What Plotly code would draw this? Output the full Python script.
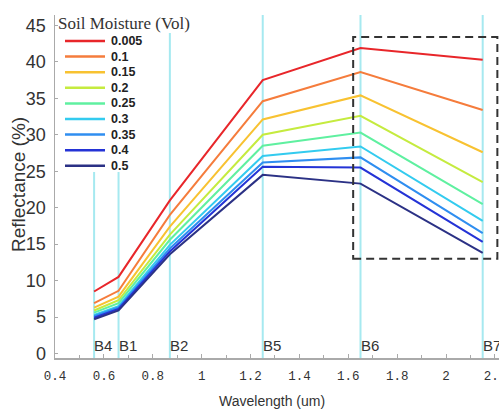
import plotly.graph_objects as go

# ---- data ----
wavelength = [0.56, 0.66, 0.87, 1.25, 1.65, 2.15]
band_names = ["B4", "B1", "B2", "B5", "B6", "B7"]
moisture = ["0.005", "0.1", "0.15", "0.2", "0.25", "0.3", "0.35", "0.4", "0.5"]
refl_0005 = [8.5, 10.5, 21.0, 37.5, 41.9, 40.3]
refl_010 = [6.9, 8.6, 19.0, 34.6, 38.6, 33.4]
refl_015 = [6.3, 7.8, 17.4, 32.1, 35.4, 27.6]
refl_020 = [5.9, 7.3, 16.3, 30.0, 32.6, 23.5]
refl_025 = [5.6, 6.9, 15.6, 28.5, 30.3, 20.5]
refl_030 = [5.3, 6.5, 14.9, 27.1, 28.4, 18.2]
refl_035 = [5.1, 6.3, 14.4, 26.2, 26.9, 16.5]
refl_040 = [4.9, 6.1, 14.0, 25.6, 25.5, 15.3]
refl_050 = [4.7, 5.9, 13.6, 24.5, 23.3, 13.8]
series = [refl_0005, refl_010, refl_015, refl_020, refl_025,
          refl_030, refl_035, refl_040, refl_050]
colors = ["#e8262a", "#f57c3c", "#f8c231", "#c5eb3f", "#5ff0a0",
          "#33cbef", "#2f8ef0", "#2433d6", "#2b3185"]
x_ticks = [0.4, 0.6, 0.8, 1.0, 1.2, 1.4, 1.6, 1.8, 2.0, 2.2]
x_tick_text = ["0.4", "0.6", "0.8", "1", "1.2", "1.4", "1.6", "1.8", "2", "2.2"]
y_ticks = [0, 5, 10, 15, 20, 25, 30, 35, 40, 45]

W, H = 499, 409
LEFT, TOP, BOTTOM, RIGHT = 55, 15, 358, 499   # plot area edges in pixels
ML, MT, MR, MB = LEFT, TOP, W - RIGHT, H - BOTTOM
PW, PH = RIGHT - LEFT, BOTTOM - TOP


def px_x(px):
    return (px - LEFT) / PW


def px_y(py):
    return (BOTTOM - py) / PH


fig = go.Figure()
for vals, lab, col in zip(series, moisture, colors):
    fig.add_trace(go.Scatter(x=wavelength, y=vals, mode="lines", name=lab,
                             line=dict(color=col, width=2), showlegend=False))

shapes = []
for wl in wavelength:
    shapes.append(dict(type="line", xref="x", yref="paper", x0=wl, x1=wl, y0=0, y1=1,
                       line=dict(color="#a6e9f0", width=2), layer="below"))
shapes.append(dict(type="rect", xref="paper", yref="paper", x0=px_x(56), x1=px_x(152),
                   y0=px_y(172), y1=px_y(15), fillcolor="white", line=dict(width=0), layer="below"))
shapes.append(dict(type="rect", xref="paper", yref="paper", x0=px_x(56), x1=px_x(197),
                   y0=px_y(33), y1=px_y(15), fillcolor="white", line=dict(width=0), layer="below"))
shapes.append(dict(type="rect", xref="x", yref="y", x0=1.62, x1=2.21, y0=13.0, y1=43.4,
                   line=dict(color="#333333", width=2, dash="8px,5px"), layer="above"))

annotations = []
annotations.append(dict(text="Soil Moisture (Vol)", xref="paper", yref="paper",
                        x=px_x(56), y=px_y(23), xanchor="left", yanchor="middle", showarrow=False,
                        font=dict(family="Liberation Serif", size=17, color="#333333")))
for i, (lab, col) in enumerate(zip(moisture, colors)):
    yy = 41 + i * 15.6
    shapes.append(dict(type="line", xref="paper", yref="paper", x0=px_x(65), x1=px_x(105),
                       y0=px_y(yy), y1=px_y(yy), line=dict(color=col, width=2.5)))
    annotations.append(dict(text="<b>" + lab + "</b>", xref="paper", yref="paper",
                            x=px_x(109), y=px_y(yy), xanchor="left", yanchor="middle",
                            showarrow=False,
                            font=dict(family="Liberation Sans, Arial", size=12.5, color="#222222")))
for wl, bn in zip(wavelength, band_names):
    annotations.append(dict(text=bn, xref="x", yref="paper", x=wl, y=px_y(345),
                            xanchor="left", yanchor="middle", xshift=-2, showarrow=False,
                            font=dict(family="Liberation Sans, Arial", size=15, color="#333333")))
annotations.append(dict(text="Wavelength (um)", xref="paper", yref="paper",
                        x=px_x(272), y=px_y(401), xanchor="center", yanchor="middle", showarrow=False,
                        font=dict(family="Liberation Sans, Arial", size=14, color="#333333")))
annotations.append(dict(text="Reflectance (%)", xref="paper", yref="paper",
                        x=px_x(18), y=px_y(185), xanchor="center", yanchor="middle", showarrow=False,
                        textangle=-90,
                        font=dict(family="Liberation Sans, Arial", size=19, color="#333333")))

fig.update_layout(
    width=W, height=H, autosize=False,
    margin=dict(l=ML, r=MR, t=MT, b=MB, pad=0),
    paper_bgcolor="white", plot_bgcolor="white",
    shapes=shapes, annotations=annotations,
    xaxis=dict(range=[0.4, 0.4 + PW / 244.4], tickvals=x_ticks, ticktext=x_tick_text,
               automargin=False,
               showgrid=False, zeroline=False, showline=True, linecolor="#aaaaaa", linewidth=1.5,
               ticks="inside", ticklen=4, tickcolor="#aaaaaa", ticklabelstandoff=5,
               ticklabeloverflow="allow",
               minor=dict(dtick=0.1, tick0=0.4, ticks="inside", ticklen=3, tickcolor="#aaaaaa"),
               tickfont=dict(family="Liberation Mono", size=12.5, color="#333333")),
    yaxis=dict(range=[-0.62, 46.43], tickvals=y_ticks, showgrid=False, zeroline=False,
               automargin=False,
               showline=True, linecolor="#aaaaaa", linewidth=1.5,
               ticks="inside", ticklen=3, tickcolor="#aaaaaa", ticklabelstandoff=4,
               tickfont=dict(family="Liberation Sans", size=18, color="#333333")),
)

fig.write_html("out.html", config={"displayModeBar": False, "staticPlot": True},
               post_script="document.body.style.margin='0';document.body.style.overflow='hidden';")
